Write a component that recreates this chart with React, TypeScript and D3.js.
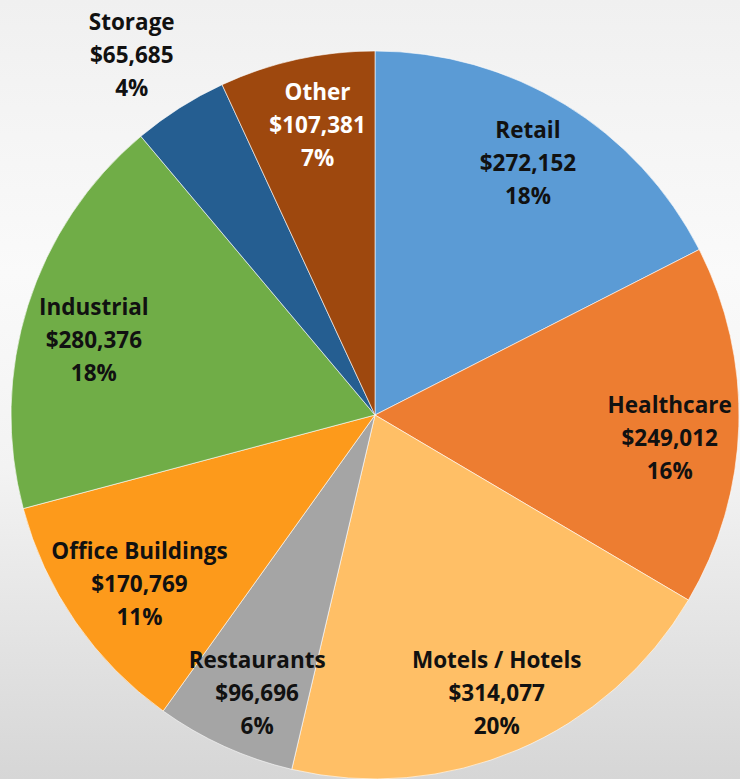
import React from "react";
import * as d3 from "d3";

const categories = ["Retail", "Healthcare", "Motels / Hotels", "Restaurants", "Office Buildings", "Industrial", "Storage", "Other"];
const values = [272152, 249012, 314077, 96696, 170769, 280376, 65685, 107381];
const percents = ["18%", "16%", "20%", "6%", "11%", "18%", "4%", "7%"];
const colors = ["#5B9BD5", "#ED7D31", "#FFBF66", "#A5A5A5", "#FD9A1B", "#70AD47", "#255E91", "#9E480E"];
const labelColors = ["#111", "#111", "#111", "#111", "#111", "#111", "#111", "#fff"];
const outsideLabels = ["Storage"];

// layout nudges for label placement (pixels), keyed by category
const labelNudge: Record<string, [number, number]> = {
  Retail: [-1, 0],
  Healthcare: [0, 14],
  "Motels / Hotels": [6, 7],
  Restaurants: [4, 10],
  "Office Buildings": [7, 1],
  Industrial: [0, 14],
  Storage: [-9, 9],
  Other: [6, -2],
};

const W = 740;
const H = 779;

export default function App() {
  const cx = 375;
  const cy = 415;
  const R = 364;
  const data = categories.map((c, i) => ({ c, v: values[i], p: percents[i], color: colors[i], lc: labelColors[i] }));
  const pie = d3.pie<any>().value((d) => d.v).sort(null);
  const arcs = pie(data);
  const arc = d3.arc<any>().innerRadius(0).outerRadius(R);
  const labelArc = d3.arc<any>().innerRadius(R * 0.81).outerRadius(R * 0.81);
  const outArc = d3.arc<any>().innerRadius(R * 1.2).outerRadius(R * 1.2);
  const fmt = d3.format("$,");
  const lh = 33;

  return (
    <svg width={W} height={H} style={{ position: "absolute", left: 0, top: 0 }} fontFamily="'Open Sans', sans-serif">
      <defs>
        <linearGradient id="bg" x1="0" y1="0" x2="0" y2="1">
          <stop offset="0" stopColor="#f0f0f0" />
          <stop offset="0.35" stopColor="#fafafa" />
          <stop offset="0.6" stopColor="#f3f3f3" />
          <stop offset="1" stopColor="#d6d6d6" />
        </linearGradient>
      </defs>
      <rect x={0} y={0} width={W} height={H} fill="url(#bg)" />
      <g transform={`translate(${cx},${cy})`}>
        {arcs.map((a, i) => (
          <path key={i} d={arc(a) as string} fill={a.data.color} stroke="#ffffff" strokeWidth={0.6} />
        ))}
        {arcs.map((a, i) => {
          const outside = outsideLabels.includes(a.data.c);
          const [x0, y0] = outside ? outArc.centroid(a) : labelArc.centroid(a);
          const [nx, ny] = labelNudge[a.data.c] || [0, 0];
          const x = x0 + nx;
          const y = y0 + ny;
          const lines = [a.data.c, fmt(a.data.v), a.data.p];
          return (
            <text key={"t" + i} textAnchor="middle" fontWeight={700} fontSize={22.5} fill={outside ? "#111" : a.data.lc}>
              {lines.map((l, j) => (
                <tspan key={j} x={x} y={y + (j - 1) * lh} dy="0.35em">{l}</tspan>
              ))}
            </text>
          );
        })}
      </g>
    </svg>
  );
}
